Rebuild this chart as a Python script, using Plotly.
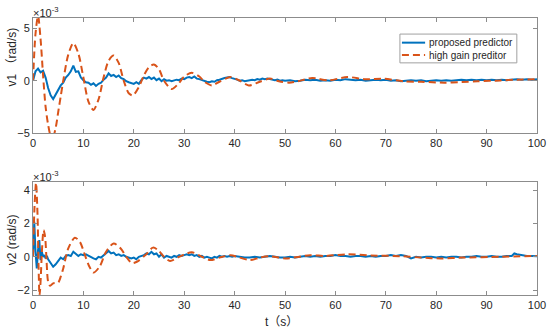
import plotly.graph_objects as go

# ---------------- data (values in units of 1e-3 rad/s) ----------------
# v1, proposed predictor
t1_blue = [0, 0.5, 1, 1.5, 2, 2.5, 3, 3.5, 4, 4.5, 5, 5.5, 6, 6.5, 7, 7.5, 8, 8.5, 9, 9.5,
           10, 10.5, 11, 11.5, 12, 12.5, 13, 13.5, 14, 14.5, 15, 15.5, 16, 16.5, 17, 17.5, 18, 18.5, 19, 19.5,
           20, 20.5, 21, 21.5, 22, 22.5, 23, 23.5, 24, 24.5, 25, 25.5, 26, 26.5, 27, 27.5, 28, 28.5, 29, 29.5,
           30, 30.5, 31, 31.5, 32, 32.5, 33, 33.5, 34, 34.5, 35, 35.5, 36, 36.5, 37, 37.5, 38, 38.5, 39, 39.5,
           40, 40.5, 41, 41.5, 42, 42.5, 43, 43.5, 44, 44.5, 45, 45.5, 46, 46.5, 47, 47.5, 48, 48.5, 49, 49.5,
           50, 51, 52, 53, 54, 55, 56, 57, 58, 59, 60, 61, 62, 63, 64, 65, 66, 67, 68, 69,
           70, 71, 72, 73, 74, 75, 76, 77, 78, 79, 80, 81, 82, 83, 84, 85, 86, 87, 88, 89,
           90, 91, 92, 93, 94, 95, 96, 97, 98, 99, 100]
v1_blue = [0.0, 0.9, 1.15, 0.8, 0.95, 0.3, -0.7, -1.4, -1.75, -1.3, -1.0, -0.45, -0.2, 0.3, 0.55, 0.9, 1.45, 0.85, 0.9, 0.3,
           0.05, -0.15, -0.2, -0.4, -0.25, -0.5, -0.3, -0.2, 0.1, 0.3, 0.7, 0.45, 0.55, 0.35, 0.5, 0.25, 0.15, -0.05, -0.15, -0.2,
           -0.3, -0.15, -0.3, 0.05, 0.3, 0.2, 0.35, 0.15, 0.3, 0.05, 0.2, -0.05, 0.15, 0.0, 0.05, -0.05, 0.0, 0.1, 0.05, 0.2,
           0.15, 0.3, 0.35, 0.25, 0.4, 0.2, 0.15, 0.05, -0.05, -0.1, -0.15, -0.05, -0.1, 0.05, 0.1, 0.2, 0.25, 0.3, 0.35, 0.25,
           0.2, 0.1, 0.0, 0.05, -0.05, 0.0, 0.05, 0.1, 0.05, 0.15, 0.1, 0.2, 0.15, 0.2, 0.15, 0.1, 0.05, 0.1, 0.0, 0.05,
           0.0, 0.05, -0.05, 0.0, 0.1, 0.05, 0.1, 0.0, 0.05, 0.0, 0.1, 0.05, 0.15, 0.1, 0.05, 0.1, 0.0, 0.05, 0.1, 0.05,
           0.1, 0.0, 0.05, -0.05, 0.0, 0.05, 0.0, 0.05, -0.05, 0.0, 0.05, 0.0, 0.05, 0.0, 0.05, 0.1, 0.05, 0.1, 0.05, 0.1,
           0.05, 0.1, 0.05, 0.1, 0.05, 0.1, 0.15, 0.1, 0.15, 0.1, 0.15]

# v1, high gain predictor
t1_red = [0, 0.5, 1.0, 1.5, 2.0, 2.5, 3.0, 3.5, 4.0, 4.5, 5.0, 5.5, 6.0, 7.0, 8.0, 9.0, 10.0, 11.0, 12.0, 13.0,
          14.0, 15.0, 16.0, 17.0, 18.0, 19.0, 19.8, 21.0, 22.0, 23.0, 24.0, 25.0, 26.0, 27.5, 29.0, 30.0, 31.5, 33.0,
          34.0, 35.5, 37.0, 39.2, 41.0, 42.8, 45.0, 47.0, 48.8, 50.8, 52.5, 55.4, 58.6, 62.4, 66.0, 69.6, 73.6, 77.0,
          81.6, 85.0, 88.2, 92.8, 96.0, 100]
v1_red = [0, 4.5, 6.2, 4.0, 0.5, -2.5, -4.2, -5.2, -5.3, -4.5, -3.0, -1.5, 0.0, 2.5, 3.6, 2.6, 0.3, -2.0, -2.8, -1.8,
          0.3, 1.9, 2.4, 1.7, 0.0, -1.2, -1.4, -0.6, 0.5, 1.3, 1.55, 1.1, 0.0, -0.8, -0.2, 0.4, 0.75, 0.4,
          -0.1, -0.45, -0.1, 0.35, 0.0, -0.45, -0.1, 0.2, -0.06, -0.19, -0.06, 0.26, 0.03, 0.35, 0.13, 0.19, -0.06, -0.1,
          -0.19, -0.12, -0.06, 0.03, 0.1, 0.13]

# v2, proposed predictor
t2_blue = [0, 0.25, 0.5, 0.75, 1.0, 1.25, 1.5, 1.75, 2.0, 2.25, 2.5, 2.75, 3.0, 3.5, 4.0, 4.5, 5.0, 5.5, 6.0, 6.5,
           7.0, 7.5, 8.0, 8.5, 9.0, 9.5, 10, 10.5, 11, 11.5, 12, 12.5, 13, 13.5, 14, 14.5, 15, 15.5, 16, 16.5,
           17, 17.5, 18, 18.5, 19, 19.5, 20, 20.5, 21, 21.5, 22, 22.5, 23, 23.5, 24, 24.5, 25, 25.5, 26, 26.5,
           27, 27.5, 28, 28.5, 29, 29.5, 30, 30.5, 31, 31.5, 32, 32.5, 33, 33.5, 34, 34.5, 35, 35.5, 36, 36.5,
           37, 37.5, 38, 38.5, 39, 39.5, 40, 41, 42, 43, 44, 45, 46, 47, 48, 49, 50, 51, 52, 53,
           54, 55, 56, 57, 58, 59, 60, 61, 62, 63, 64, 65, 66, 67, 68, 69, 70, 71, 72, 73,
           74, 75, 76, 77, 78, 79, 80, 81, 82, 83, 84, 85, 86, 87, 88, 89, 90, 91, 92, 93,
           94, 95, 95.5, 96, 97, 98, 99, 100]
v2_blue = [0.0, 2.1, 0.3, -0.7, 0.4, 1.0, -0.2, 0.3, 0.0, 0.1, -0.1, 0.05, -0.15, -0.35, -0.6, -0.45, -0.25, -0.05, -0.15, 0.05,
           0.1, 0.05, 0.3, 0.2, 0.05, 0.15, 0.1, 0.15, 0.05, 0.0, -0.1, -0.15, 0.0, -0.05, 0.1, 0.2, 0.35, 0.2, 0.25, 0.1,
           0.15, 0.05, 0.1, 0.0, -0.05, -0.1, -0.05, -0.15, 0.0, 0.05, 0.1, 0.2, 0.15, 0.3, 0.15, 0.2, 0.0, 0.15, -0.05, 0.05,
           0.0, -0.05, 0.05, 0.0, 0.1, 0.05, 0.1, 0.15, 0.1, 0.15, 0.05, 0.1, 0.0, 0.05, -0.05, 0.0, -0.05, -0.1, 0.0, -0.05,
           0.05, 0.0, 0.05, 0.0, 0.05, 0.0, 0.05, 0.0, -0.05, -0.05, 0.0, -0.05, 0.0, 0.05, 0.0, -0.05, -0.05, 0.0, -0.05, 0.0,
           0.05, 0.0, 0.05, 0.0, 0.05, 0.05, 0.1, 0.05, 0.05, 0.0, 0.05, 0.05, 0.0, 0.05, 0.0, 0.05, 0.05, 0.1, 0.05, 0.1,
           0.05, -0.1, 0.0, -0.05, 0.0, 0.0, -0.05, 0.0, -0.05, 0.0, 0.0, -0.05, 0.0, 0.0, 0.05, 0.0, 0.0, 0.05, 0.0, 0.0,
           0.05, 0.05, 0.2, 0.15, 0.1, 0.05, 0.05, 0.03]

# v2, high gain predictor
t2_red = [0, 0.3, 0.6, 0.9, 1.1, 1.3, 1.5, 1.8, 2.1, 2.4, 2.7, 3.0, 3.4, 4.0, 5.0, 5.5, 6.0, 7.0, 8.3, 9.3,
          10.3, 11.2, 12.0, 13.2, 14.5, 16.0, 17.4, 18.5, 19.6, 20.6, 22.3, 23.8, 24.8, 26.0, 27.2, 29.0, 31.5, 33.5,
          35.2, 37.0, 39.2, 41.0, 43.1, 45.0, 47.1, 50.1, 55.0, 58.0, 62.4, 67.0, 73.5, 77.0, 80.9, 85.0, 92.8, 100]
v2_red = [0, 3.0, 4.45, 2.5, -0.5, -2.35, -1.5, 0.5, 1.6, 1.2, -0.3, -1.5, -1.75, -1.6, -1.55, -1.2, -0.7, 0.5, 1.15, 0.9,
          0.1, -0.6, -0.95, -0.6, 0.3, 0.8, 0.5, 0.0, -0.38, -0.3, 0.1, 0.55, 0.4, 0.0, -0.25, 0.0, 0.27, 0.0,
          -0.2, -0.05, 0.09, -0.05, -0.2, -0.05, 0.03, -0.1, 0.09, 0.05, 0.15, 0.08, 0.03, -0.05, -0.1, -0.05, 0.0, 0.05]

x_ticks = [0, 10, 20, 30, 40, 50, 60, 70, 80, 90, 100]
y1_ticks = [-5, 0, 5]
y2_ticks = [-2, 0, 2, 4]
legend_names = ["proposed predictor", "high gain preditor"]

BLUE = "#0072BD"
RED = "#D95319"
FONT = "Liberation Sans, Arial, Noto Sans CJK SC, sans-serif"
TXT = "#262626"
AX = "#8c8c8c"
DASH = "7px,4px"

fig = go.Figure()
fig.add_trace(go.Scatter(x=t1_blue, y=v1_blue, mode="lines", name=legend_names[0], showlegend=False,
                         line=dict(color=BLUE, width=2), xaxis="x", yaxis="y"))
fig.add_trace(go.Scatter(x=t1_red, y=v1_red, mode="lines", name=legend_names[1], showlegend=False,
                         line=dict(color=RED, width=2, dash=DASH, shape="spline", smoothing=0.8),
                         xaxis="x", yaxis="y"))
fig.add_trace(go.Scatter(x=t2_blue, y=v2_blue, mode="lines", showlegend=False,
                         line=dict(color=BLUE, width=2), xaxis="x2", yaxis="y2"))
fig.add_trace(go.Scatter(x=t2_red, y=v2_red, mode="lines", showlegend=False,
                         line=dict(color=RED, width=2, dash=DASH, shape="spline", smoothing=0.8),
                         xaxis="x2", yaxis="y2"))

axis_common = dict(showline=True, linecolor=AX, linewidth=1, mirror="ticks", ticks="inside",
                   ticklen=4, tickcolor=AX, showgrid=False, zeroline=False, automargin=False,
                   tickfont=dict(family=FONT, size=11, color=TXT))

fig.update_layout(
    width=550, height=333,
    margin=dict(l=33, r=13, t=18, b=38),
    paper_bgcolor="white", plot_bgcolor="white",
    font=dict(family=FONT, size=11, color=TXT),
    xaxis=dict(domain=[0, 1], range=[0, 100], tickvals=x_ticks, anchor="y", **axis_common),
    yaxis=dict(domain=[0.585, 1.0], range=[-5, 6], tickvals=y1_ticks, anchor="x", **axis_common),
    xaxis2=dict(domain=[0, 1], range=[0, 100], tickvals=x_ticks, anchor="y2", **axis_common),
    yaxis2=dict(domain=[0.0, 0.408], range=[-2.3, 4.5], tickvals=y2_ticks, anchor="x2", **axis_common),
    showlegend=False,
)

# axis titles
fig.add_annotation(text="v1 （rad/s)", xref="paper", yref="paper", x=-0.041, y=0.859,
                   textangle=-90, showarrow=False, xanchor="center", yanchor="middle",
                   font=dict(family=FONT, size=12, color=TXT))
fig.add_annotation(text="v2 (rad/s)", xref="paper", yref="paper", x=-0.041, y=0.199,
                   textangle=-90, showarrow=False, xanchor="center", yanchor="middle",
                   font=dict(family=FONT, size=12, color=TXT))
fig.add_annotation(text="t（s）", xref="paper", yref="paper", x=0.494, y=-0.0957,
                   showarrow=False, xanchor="center", yanchor="middle",
                   font=dict(family=FONT, size=12, color=TXT))

# exponent labels
fig.add_annotation(text="×10<sup>-3</sup>", xref="paper", yref="paper", x=0, y=1.0,
                   xanchor="left", yanchor="bottom", showarrow=False, yshift=-3, xshift=-2,
                   font=dict(family=FONT, size=11, color=TXT))
fig.add_annotation(text="×10<sup>-3</sup>", xref="paper", yref="paper", x=0, y=0.408,
                   xanchor="left", yanchor="bottom", showarrow=False, yshift=-3, xshift=-2,
                   font=dict(family=FONT, size=11, color=TXT))

# legend box (MATLAB style, compact)
fig.add_shape(type="rect", xref="paper", yref="paper", x0=0.728, x1=0.960, y0=0.838, y1=0.942,
              line=dict(color="#a0a0a0", width=1), fillcolor="white", layer="above")
fig.add_shape(type="line", xref="paper", yref="paper", x0=0.732, x1=0.778, y0=0.911, y1=0.911,
              line=dict(color=BLUE, width=2), layer="above")
fig.add_shape(type="line", xref="paper", yref="paper", x0=0.732, x1=0.778, y0=0.866, y1=0.866,
              line=dict(color=RED, width=2, dash=DASH), layer="above")
fig.add_annotation(text=legend_names[0], xref="paper", yref="paper", x=0.781, y=0.911,
                   xanchor="left", yanchor="middle", showarrow=False,
                   font=dict(family=FONT, size=10, color=TXT))
fig.add_annotation(text=legend_names[1], xref="paper", yref="paper", x=0.781, y=0.866,
                   xanchor="left", yanchor="middle", showarrow=False,
                   font=dict(family=FONT, size=10, color=TXT))

fig.write_html("out.html", config={"displayModeBar": False},
               post_script="document.body.style.margin='0px';")
